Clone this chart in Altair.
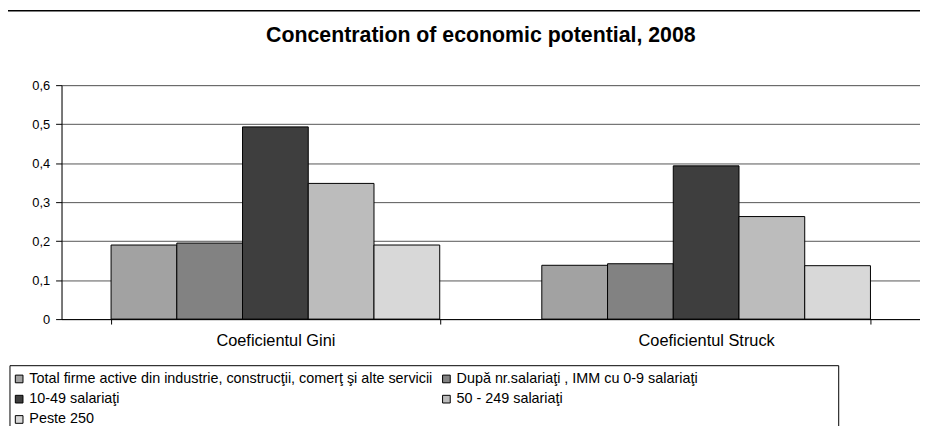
import altair as alt
import pandas as pd

# ---- data ----
categories = ["Coeficientul Gini", "Coeficientul Struck"]
series = [
    "Total firme active din industrie, construcţii, comerţ şi alte servicii",
    "După nr.salariaţi , IMM cu 0-9 salariaţi",
    "10-49 salariaţi",
    "50 - 249 salariaţi",
    "Peste 250",
]
gini_values = [0.190, 0.195, 0.493, 0.348, 0.190]
struck_values = [0.138, 0.142, 0.393, 0.263, 0.137]
series_colors = ["#a2a2a2", "#828282", "#3e3e3e", "#bcbcbc", "#d8d8d8"]
# legend is filled column by column: order so that rows read as in the reference
legend_order = [series[0], series[2], series[4], series[1], series[3]]
y_ticks = [0, 0.1, 0.2, 0.3, 0.4, 0.5, 0.6]
title_text = "Concentration of economic potential, 2008"

rows = []
for cat, vals in zip(categories, [gini_values, struck_values]):
    for s, v in zip(series, vals):
        rows.append({"categorie": cat, "serie": s, "valoare": v})
df = pd.DataFrame(rows)

FONT = "Liberation Sans"
color_of = dict(zip(series, series_colors))

# plot area: 866 x 236, origin at page (62, 84)
W, H = 866, 236

one = pd.DataFrame({"k": [0]})

frame_top = alt.Chart(one).mark_rule(color="black", strokeWidth=1.5).encode(
    x=alt.value(-56), x2=alt.value(870), y=alt.value(-75)
)
frame_left = alt.Chart(one).mark_rule(color="black", strokeWidth=1.5).encode(
    x=alt.value(-56), y=alt.value(-75), y2=alt.value(360)
)

legend_box = alt.Chart(one).mark_rect(
    fill="transparent", stroke="black", strokeWidth=1
).encode(
    x=alt.value(-52), x2=alt.value(784), y=alt.value(283), y2=alt.value(400)
)

title = alt.Chart(one).mark_text(
    font=FONT, fontSize=21.5, fontWeight="bold", color="black",
    align="center", baseline="middle"
).encode(
    x=alt.value(423), y=alt.value(-50), text=alt.value(title_text)
)

bars = alt.Chart(df).mark_bar(stroke="black", strokeWidth=1).encode(
    x=alt.X(
        "categorie:N",
        sort=categories,
        title=None,
        scale=alt.Scale(paddingInner=0.237, paddingOuter=0.115),
        axis=alt.Axis(
            labelAngle=0,
            labelFont=FONT,
            labelFontSize=16.5,
            labelColor="black",
            labelPadding=9,
            tickBand="extent",
            tickSize=5,
            tickColor="black",
            domainColor="black",
            grid=False,
        ),
    ),
    xOffset=alt.XOffset(
        "serie:N", sort=series, scale=alt.Scale(paddingInner=0, paddingOuter=0)
    ),
    y=alt.Y(
        "valoare:Q",
        title=None,
        scale=alt.Scale(domain=[0, 0.6], nice=False),
        axis=alt.Axis(
            values=y_ticks,
            labelExpr="datum.value == 0 ? '0' : replace(format(datum.value, '.1f'), '.', ',')",
            labelFont=FONT,
            labelFontSize=13,
            labelColor="black",
            labelPadding=6,
            tickSize=6,
            tickColor="black",
            domainColor="black",
            gridColor="#555555",
            gridWidth=1,
        ),
    ),
    color=alt.Color(
        "serie:N",
        scale=alt.Scale(domain=legend_order, range=[color_of[s] for s in legend_order]),
        legend=alt.Legend(
            title=None,
            orient="none",
            legendX=-50,
            legendY=289,
            columns=2,
            symbolType="square",
            symbolSize=60,
            symbolStrokeColor="black",
            symbolStrokeWidth=1,
            symbolOpacity=1,
            labelFont=FONT,
            labelFontSize=14.5,
            labelColor="black",
            labelLimit=0,
            rowPadding=5.5,
            columnPadding=6,
            labelOffset=3,
        ),
    ),
)

chart = alt.layer(frame_top, frame_left, legend_box, title, bars).properties(
    width=W,
    height=H,
    padding={"left": 54, "top": 76, "right": 0, "bottom": 106},
    autosize=alt.AutoSizeParams(type="none"),
).configure_view(stroke=None).configure(background="white")

chart.save("out.html", embed_options={"renderer": "svg", "actions": False})
